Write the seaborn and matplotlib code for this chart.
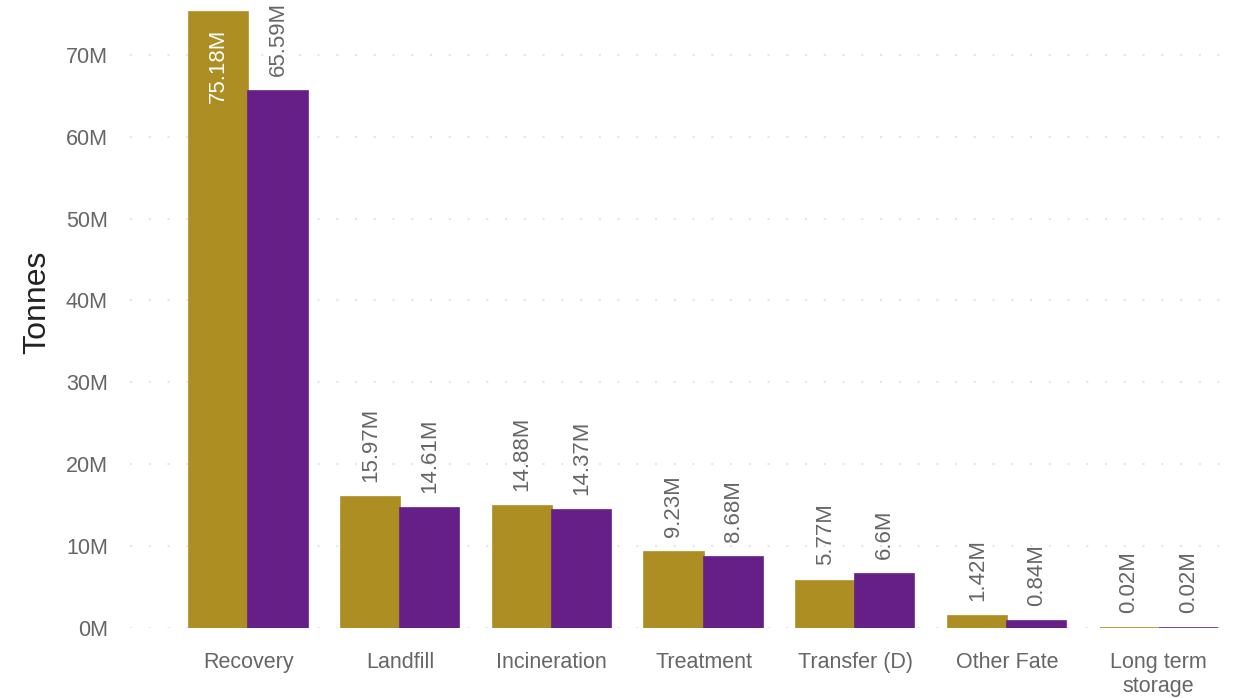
import matplotlib
matplotlib.use("Agg")
import matplotlib.pyplot as plt
import pandas as pd
import seaborn as sns
from matplotlib.ticker import FuncFormatter

categories = ["Recovery", "Landfill", "Incineration", "Treatment",
              "Transfer (D)", "Other Fate", "Long term\nstorage"]
series_names = ["Period 1", "Period 2"]
values_first = [75.18, 15.97, 14.88, 9.23, 5.77, 1.42, 0.02]    # millions of tonnes
values_second = [65.59, 14.61, 14.37, 8.68, 6.6, 0.84, 0.02]
palette = ["#AD8E22", "#651F87"]
text_grey = "#666666"

df = pd.DataFrame({
    "fate": categories * 2,
    "series": [series_names[0]] * len(categories) + [series_names[1]] * len(categories),
    "tonnes": [v * 1e6 for v in values_first + values_second],
})

sns.set_theme(style="white")
plt.rcParams["font.family"] = ["Liberation Sans", "DejaVu Sans"]

fig = plt.figure(figsize=(12.33, 6.98), dpi=100)
ax = fig.add_axes([130 / 1233, 1 - 628 / 698, 1100 / 1233, 628 / 698])

sns.barplot(data=df, x="fate", y="tonnes", hue="series", palette=palette,
            saturation=1, width=0.78, dodge=True, legend=False, ax=ax)

# no white seams; tiny bars still show as a thin line
for bar in ax.patches:
    bar.set_edgecolor(bar.get_facecolor())
    bar.set_linewidth(1.2)

ax.set_ylim(0, 76.7e6)
ax.set_xlim(-0.78, 6.47)
ax.set_yticks([i * 10e6 for i in range(8)])
ax.yaxis.set_major_formatter(FuncFormatter(lambda v, _: f"{v / 1e6:.0f}M"))
ax.grid(axis="y", color="#E4E4F0", linestyle=(0, (1, 8)), linewidth=1.5)
ax.set_axisbelow(True)
for s in ax.spines.values():
    s.set_visible(False)
ax.tick_params(axis="both", length=0, labelsize=15.5, colors=text_grey)
ax.tick_params(axis="y", pad=16)
ax.tick_params(axis="x", pad=17)
ax.set_xlabel("")
ax.set_ylabel("Tonnes", fontsize=23, color="#222222")
ax.yaxis.set_label_coords(-78 / 1100, 0.519)

top = ax.get_ylim()[1]
for cont in ax.containers:
    for bar in cont:
        h = bar.get_height()
        x = bar.get_x() + bar.get_width() / 2
        label = f"{h / 1e6:g}M"
        if h > top * 0.9:
            ax.annotate(label, (x, h), xytext=(0, -12), textcoords="offset points",
                        rotation=90, ha="center", va="top", fontsize=16, color="white")
        else:
            ax.annotate(label, (x, h), xytext=(0, 11), textcoords="offset points",
                        rotation=90, ha="center", va="bottom", fontsize=16, color=text_grey)

fig.savefig("out.png", dpi=100)
